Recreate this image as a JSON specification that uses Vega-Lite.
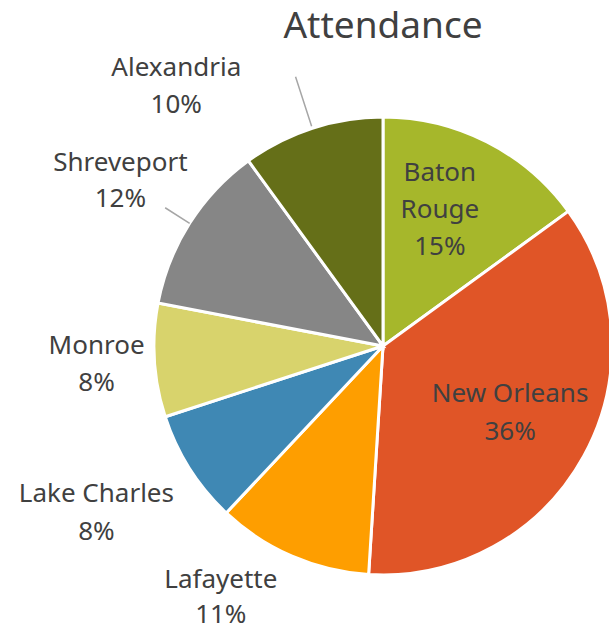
{
  "$schema": "https://vega.github.io/schema/vega-lite/v6.json",
  "width": 452,
  "height": 452,
  "autosize": "none",
  "padding": {"left": 157, "top": 120, "right": 0, "bottom": 61},
  "background": "white",
  "config": {"view": {"stroke": null}},
  "title": {"text": "Attendance", "font": "Noto Sans", "fontSize": 37, "fontWeight": "normal", "color": "#404040", "offset": 9, "anchor": "middle"},
  "data": {"values": [
    {"category": "Baton Rouge", "value": 15, "order": 1},
    {"category": "New Orleans", "value": 36, "order": 2},
    {"category": "Lafayette", "value": 11, "order": 3},
    {"category": "Lake Charles", "value": 8, "order": 4},
    {"category": "Monroe", "value": 8, "order": 5},
    {"category": "Shreveport", "value": 12, "order": 6},
    {"category": "Alexandria", "value": 10, "order": 7}
  ]},
  "transform": [
    {"window": [{"op": "sum", "field": "value", "as": "cum"}], "sort": [{"field": "order"}], "frame": [null, 0]},
    {"calculate": "datum.cum - datum.value / 2", "as": "mid"},
    {"calculate": "datum.category == 'Baton Rouge' ? ['Baton', 'Rouge', datum.value + '%'] : [datum.category, datum.value + '%']", "as": "label"}
  ],
  "layer": [
    {
      "mark": {"type": "arc", "outerRadius": 229, "stroke": "white", "strokeWidth": 3},
      "encoding": {
        "theta": {"field": "value", "type": "quantitative", "stack": true, "scale": {"domain": [0, 100]}},
        "order": {"field": "order", "type": "quantitative"},
        "color": {"field": "category", "type": "nominal", "legend": null,
          "scale": {"domain": ["Baton Rouge", "New Orleans", "Lafayette", "Lake Charles", "Monroe", "Shreveport", "Alexandria"],
                    "range": ["#A6B72B", "#E05527", "#FE9E00", "#3F88B4", "#D8D36C", "#868686", "#656F18"]}}
      }
    },
    {
      "transform": [{"filter": "datum.category == 'Shreveport'"}],
      "mark": {"type": "arc", "radius": 229, "radius2": 258, "stroke": "#A6A6A6", "strokeWidth": 1.5, "fill": null},
      "encoding": {
        "theta": {"field": "mid", "type": "quantitative", "scale": {"domain": [0, 100]}},
        "theta2": {"field": "mid"}
      }
    },
    {
      "transform": [{"filter": "datum.category == 'Alexandria'"}],
      "mark": {"type": "arc", "radius": 231, "radius2": 283, "stroke": "#A6A6A6", "strokeWidth": 1.5, "fill": null},
      "encoding": {
        "theta": {"field": "mid", "type": "quantitative", "scale": {"domain": [0, 100]}},
        "theta2": {"field": "mid"}
      }
    },
    {
      "transform": [{"filter": "datum.category == 'Baton Rouge'"}],
      "mark": {"type": "text", "radius": 145, "dx": -9, "dy": -44, "font": "Noto Sans", "fontSize": 26, "lineHeight": 37, "color": "#404040", "align": "center", "baseline": "middle"},
      "encoding": {
        "theta": {"field": "mid", "type": "quantitative", "scale": {"domain": [0, 100]}},
        "text": {"field": "label"}
      }
    },
    {
      "transform": [{"filter": "datum.category == 'New Orleans'"}],
      "mark": {"type": "text", "radius": 145, "dy": -22, "font": "Noto Sans", "fontSize": 26, "lineHeight": 38, "color": "#404040", "align": "center", "baseline": "middle"},
      "encoding": {
        "theta": {"field": "mid", "type": "quantitative", "scale": {"domain": [0, 100]}},
        "text": {"field": "label"}
      }
    },
    {
      "transform": [{"filter": "datum.category == 'Monroe'"}],
      "mark": {"type": "text", "radius": 287, "dy": -18, "font": "Noto Sans", "fontSize": 26, "lineHeight": 37, "color": "#404040", "align": "center", "baseline": "middle"},
      "encoding": {
        "theta": {"field": "mid", "type": "quantitative", "scale": {"domain": [0, 100]}},
        "text": {"field": "label"}
      }
    },
    {
      "transform": [{"filter": "datum.category == 'Shreveport'"}],
      "mark": {"type": "text", "radius": 311, "dy": -16, "font": "Noto Sans", "fontSize": 26, "lineHeight": 36, "color": "#404040", "align": "center", "baseline": "middle"},
      "encoding": {
        "theta": {"field": "mid", "type": "quantitative", "scale": {"domain": [0, 100]}},
        "text": {"field": "label"}
      }
    },
    {
      "transform": [{"filter": "datum.category == 'Lake Charles'"}],
      "mark": {"type": "text", "radius": 330, "dx": -8, "dy": -29, "font": "Noto Sans", "fontSize": 26, "lineHeight": 38, "color": "#404040", "align": "center", "baseline": "middle"},
      "encoding": {
        "theta": {"field": "mid", "type": "quantitative", "scale": {"domain": [0, 100]}},
        "text": {"field": "label"}
      }
    },
    {
      "transform": [{"filter": "datum.category == 'Lafayette'"}],
      "mark": {"type": "text", "radius": 280, "dx": -51, "dy": -23, "font": "Noto Sans", "fontSize": 26, "lineHeight": 35, "color": "#404040", "align": "center", "baseline": "middle"},
      "encoding": {
        "theta": {"field": "mid", "type": "quantitative", "scale": {"domain": [0, 100]}},
        "text": {"field": "label"}
      }
    },
    {
      "transform": [{"filter": "datum.category == 'Alexandria'"}],
      "mark": {"type": "text", "radius": 300, "dx": -114, "dy": 7, "font": "Noto Sans", "fontSize": 26, "lineHeight": 37, "color": "#404040", "align": "center", "baseline": "middle"},
      "encoding": {
        "theta": {"field": "mid", "type": "quantitative", "scale": {"domain": [0, 100]}},
        "text": {"field": "label"}
      }
    }
  ]
}
